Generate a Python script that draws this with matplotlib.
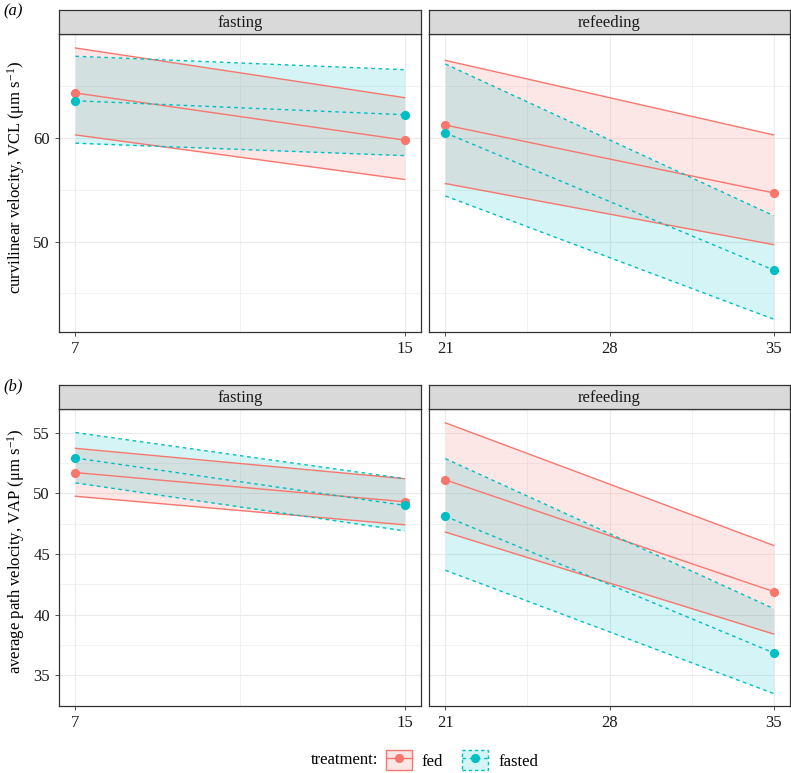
import matplotlib.pyplot as plt
from matplotlib.lines import Line2D
from matplotlib.patches import Patch

plt.rcParams['font.family'] = ['Liberation Serif', 'DejaVu Serif']
plt.rcParams['mathtext.fontset'] = 'custom'
plt.rcParams['mathtext.rm'] = 'Liberation Serif'
plt.rcParams['mathtext.it'] = 'Liberation Serif:italic'

# days sampled: first two = fasting phase, last two = refeeding phase
days = [7, 15, 21, 35]

# (a) curvilinear velocity, VCL
vcl_fed_mean = [64.35, 59.8, 61.25, 54.7]
vcl_fed_lo = [60.3, 56.0, 55.6, 49.7]
vcl_fed_hi = [68.7, 63.9, 67.5, 60.3]
vcl_fasted_mean = [63.6, 62.25, 60.5, 47.25]
vcl_fasted_lo = [59.5, 58.3, 54.4, 42.5]
vcl_fasted_hi = [67.9, 66.6, 67.15, 52.5]

# (b) average path velocity, VAP
vap_fed_mean = [51.7, 49.3, 51.1, 41.9]
vap_fed_lo = [49.75, 47.4, 46.8, 38.4]
vap_fed_hi = [53.7, 51.2, 55.8, 45.7]
vap_fasted_mean = [52.9, 49.0, 48.1, 36.85]
vap_fasted_lo = [50.85, 46.9, 43.65, 33.5]
vap_fasted_hi = [55.0, 51.2, 52.85, 40.5]

phases = ['fasting', 'refeeding']
treatments = ['fed', 'fasted']

FED = '#F8766D'
FASTED = '#00BFC4'
DARK = '#333333'
GRID = '#EBEBEB'
FS = 12

W, H = 791, 773
fig = plt.figure(figsize=(W / 100, H / 100), dpi=100)


def px_axes(left, top, right, bottom):
    return fig.add_axes([left / W, 1 - bottom / H, (right - left) / W, (bottom - top) / H])


rows = [
    dict(tag='(a)', strip_top=10, top=34, bottom=332, ylim=(41.26, 70.05),
         yticks=[50, 60], yminor=[45, 55, 65],
         ylabel='curvilinear velocity, VCL (μm s$^{-1}$)', ylab_y=177,
         fed=(vcl_fed_mean, vcl_fed_lo, vcl_fed_hi),
         fasted=(vcl_fasted_mean, vcl_fasted_lo, vcl_fasted_hi)),
    dict(tag='(b)', strip_top=385, top=409, bottom=706, ylim=(32.47, 56.94),
         yticks=[35, 40, 45, 50, 55], yminor=[37.5, 42.5, 47.5, 52.5],
         ylabel='average path velocity, VAP (μm s$^{-1}$)', ylab_y=551,
         fed=(vap_fed_mean, vap_fed_lo, vap_fed_hi),
         fasted=(vap_fasted_mean, vap_fasted_lo, vap_fasted_hi)),
]
cols = [
    dict(left=59, right=421, xlim=(6.6, 15.4), xticks=[7, 15], xminor=[11], sl=slice(0, 2)),
    dict(left=429, right=790, xlim=(20.3, 35.7), xticks=[21, 28, 35], xminor=[24.5, 31.5], sl=slice(2, 4)),
]

styles = {'fed': (FED, '-'), 'fasted': (FASTED, (0, (2.6, 2.6)))}

for row in rows:
    for ci, col in enumerate(cols):
        ax = px_axes(col['left'], row['top'], col['right'], row['bottom'])
        ax.set_xlim(col['xlim'])
        ax.set_ylim(row['ylim'])
        ax.set_xticks(col['xticks'])
        ax.set_xticks(col['xminor'], minor=True)
        ax.set_yticks(row['yticks'])
        ax.set_yticks(row['yminor'], minor=True)
        ax.grid(True, which='major', color=GRID, lw=0.8)
        ax.grid(True, which='minor', color=GRID, lw=0.45)
        ax.set_axisbelow(True)
        ax.tick_params(which='minor', length=0)
        ax.tick_params(which='major', length=3, width=0.6, color=DARK,
                       labelsize=FS, labelcolor='#1a1a1a', pad=3.5)
        if ci == 1:
            ax.tick_params(axis='y', left=False, labelleft=False)
        for s in ax.spines.values():
            s.set_color(DARK)
            s.set_linewidth(0.9)

        x = days[col['sl']]
        for tr in treatments:
            color, ls = styles[tr]
            mean, lo, hi = [v[col['sl']] for v in row[tr]]
            ax.fill_between(x, lo, hi, color=color, alpha=0.17, lw=0)
            ax.plot(x, lo, color=color, ls=ls, lw=1.0)
            ax.plot(x, hi, color=color, ls=ls, lw=1.0)
            ax.plot(x, mean, color=color, ls=ls, lw=1.0)
            ax.plot(x, mean, ls='none', marker='o', ms=5.6, color=color, clip_on=False, zorder=5)

        # facet strip
        sax = px_axes(col['left'], row['strip_top'], col['right'], row['top'])
        sax.set_facecolor('#D9D9D9')
        sax.set_xticks([])
        sax.set_yticks([])
        for s in sax.spines.values():
            s.set_color(DARK)
            s.set_linewidth(0.9)
        sax.text(0.5, 0.45, phases[ci], ha='center', va='center', fontsize=FS,
                 color='#1a1a1a', transform=sax.transAxes)

    fig.text(16 / W, 1 - row['ylab_y'] / H, row['ylabel'], rotation=90,
             ha='center', va='center', fontsize=FS)
    fig.text(3 / W, 1 - (row['strip_top'] + 1) / H, row['tag'], style='italic',
             ha='left', va='center', fontsize=FS)

# legend
fig.text(378 / W, 1 - 760 / H, 'treatment:', ha='right', va='center', fontsize=FS)
handles = []
for tr in treatments:
    color, ls = styles[tr]
    box = Patch(facecolor=(*plt.matplotlib.colors.to_rgb(color), 0.17),
                edgecolor=color, linestyle='-' if tr == 'fed' else (0, (2.5, 2.0)), lw=1.0)
    ln = Line2D([], [], color=color, ls=ls, lw=1.0, marker='o', ms=5.6)
    handles.append((box, ln))
fig.legend(handles, treatments, loc='center left', bbox_to_anchor=(386 / W, 1 - 760 / H),
           ncol=2, frameon=False, fontsize=FS, handlelength=1.55, handleheight=1.5,
           handletextpad=0.6, columnspacing=1.15, borderaxespad=0, borderpad=0)

fig.savefig('out.png', dpi=100)
